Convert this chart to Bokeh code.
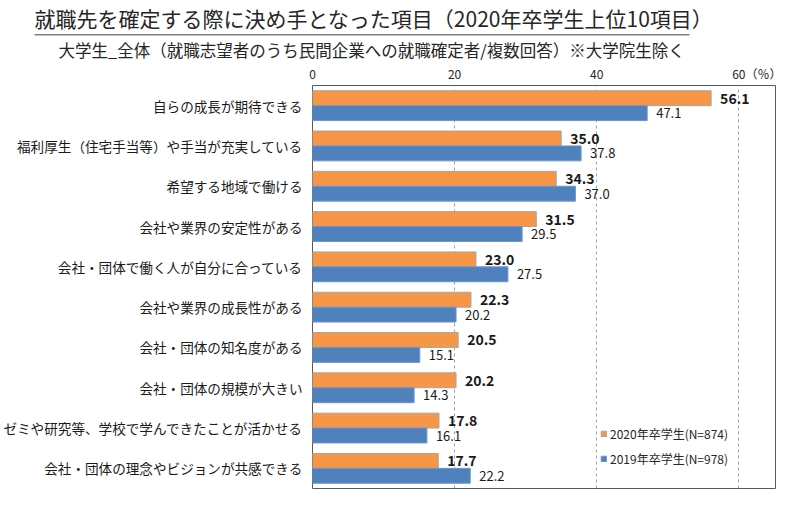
from bokeh.plotting import figure
from bokeh.models import Range1d, FactorRange, ColumnDataSource, FixedTicker, Title
from bokeh.transform import dodge
from bokeh.core.properties import value
from bokeh.embed import file_html
from bokeh.resources import INLINE

FONT = "Noto Sans CJK JP"

title_text = "就職先を確定する際に決め手となった項目（2020年卒学生上位10項目）"
subtitle_text = "大学生_全体（就職志望者のうち民間企業への就職確定者/複数回答）※大学院生除く"

categories = [
    "自らの成長が期待できる",
    "福利厚生（住宅手当等）や手当が充実している",
    "希望する地域で働ける",
    "会社や業界の安定性がある",
    "会社・団体で働く人が自分に合っている",
    "会社や業界の成長性がある",
    "会社・団体の知名度がある",
    "会社・団体の規模が大きい",
    "ゼミや研究等、学校で学んできたことが活かせる",
    "会社・団体の理念やビジョンが共感できる",
]
values_2020 = [56.1, 35.0, 34.3, 31.5, 23.0, 22.3, 20.5, 20.2, 17.8, 17.7]
values_2019 = [47.1, 37.8, 37.0, 29.5, 27.5, 20.2, 15.1, 14.3, 16.1, 22.2]
series_names = ["2020年卒学生(N=874)", "2019年卒学生(N=978)"]
x_ticks = [0, 20, 40, 60]
unit_label = "（％）"

ORANGE = "#F79646"
BLUE = "#4F81BD"

src = ColumnDataSource(dict(
    cat=categories,
    v20=values_2020,
    v19=values_2019,
    l20=[f"{v:.1f}" for v in values_2020],
    l19=[f"{v:.1f}" for v in values_2019],
))

p = figure(width=784, height=496, y_range=FactorRange(*reversed(categories)),
           x_range=Range1d(0, 65.16), x_axis_location="above",
           output_backend="svg", toolbar_location=None,
           min_border_left=308, min_border_right=9, min_border_top=81, min_border_bottom=8)

p.hbar(y=dodge("cat", 0.185, range=p.y_range), left=0, right="v20", height=0.37, source=src,
       fill_color=ORANGE, line_color="#A6A6A6", line_width=1, legend_label=series_names[0])
p.hbar(y=dodge("cat", -0.185, range=p.y_range), left=0, right="v19", height=0.37, source=src,
       fill_color=BLUE, line_color="#6F95CC", line_width=1, legend_label=series_names[1])

p.text(x="v20", y=dodge("cat", 0.185, range=p.y_range), text="l20", source=src, x_offset=9,
       text_baseline="middle", text_align="left", text_font=value(FONT),
       text_font_size="14px", text_font_style="bold", text_color="#1a1a1a")
p.text(x="v19", y=dodge("cat", -0.185, range=p.y_range), text="l19", source=src, x_offset=9,
       text_baseline="middle", text_align="left", text_font=value(FONT),
       text_font_size="13px", text_color="#1a1a1a")

# axes
p.xaxis.ticker = FixedTicker(ticks=x_ticks)
p.xaxis.major_label_overrides = {60: "\u3000\u3000\u300060" + unit_label}
p.xaxis.axis_line_color = None
p.xaxis.major_tick_line_color = None
p.xaxis.minor_tick_line_color = None
p.xaxis.major_tick_out = 0
p.xaxis.major_tick_in = 0
p.xaxis.major_label_standoff = 4
p.xaxis.major_label_text_font = FONT
p.xaxis.major_label_text_font_size = "12px"
p.xaxis.major_label_text_color = "#262626"

p.yaxis.axis_line_color = None
p.yaxis.major_tick_line_color = None
p.yaxis.minor_tick_line_color = None
p.yaxis.major_tick_out = 0
p.yaxis.major_tick_in = 0
p.yaxis.major_label_standoff = 10
p.yaxis.major_label_text_font = FONT
p.yaxis.major_label_text_font_size = "13.6px"
p.yaxis.major_label_text_color = "#1a1a1a"

p.ygrid.visible = False
p.xgrid.grid_line_color = "#A0A0A0"
p.xgrid.grid_line_dash = "3 3"
p.xgrid.grid_line_width = 1
p.outline_line_color = "#595959"
p.outline_line_width = 1

# header (first added sits closest to the frame)
p.add_layout(Title(text=subtitle_text, align="left", offset=-254, standoff=0,
                   text_font=FONT, text_font_size="16.5px", text_font_style="normal",
                   text_color="#262626"), "above")
# thin grey rule under the main title: a blank title with a filled background
p.add_layout(Title(text="\u3000" * 655, align="left", offset=-278, standoff=0,
                   text_font=FONT, text_font_size="1px", text_color="#808080",
                   background_fill_color="#808080", background_fill_alpha=1), "above")
p.add_layout(Title(text=title_text, align="left", offset=-278, standoff=0,
                   text_font=FONT, text_font_size="21px", text_font_style="normal",
                   text_color="#262626"), "above")

lg = p.legend[0]
lg.location = (288, 20)
lg.padding = 0
lg.margin = 0
lg.spacing = 5
lg.label_height = 20
lg.glyph_height = 7
lg.glyph_width = 7
lg.label_standoff = 3
lg.background_fill_alpha = 0
lg.border_line_alpha = 0
lg.label_text_font = FONT
lg.label_text_font_size = "12px"
lg.label_text_color = "#262626"

open("out.html", "w").write(file_html(p, INLINE))
